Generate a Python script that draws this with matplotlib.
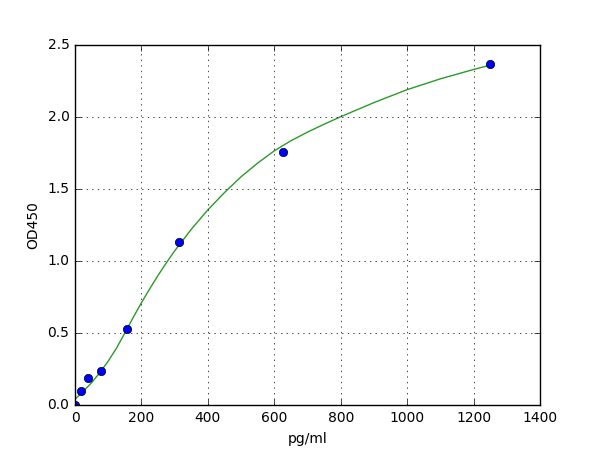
import matplotlib
matplotlib.use("Agg")
import matplotlib.pyplot as plt

plt.style.use("classic")
plt.rcParams["font.size"] = 10

# standard points
conc = [0, 19.5, 39, 78, 156, 312, 625, 1250]
od = [0.0, 0.099, 0.187, 0.238, 0.526, 1.131, 1.759, 2.366]

# fitted curve
curve_x = [0, 25, 50, 75, 100, 125, 150, 175, 200, 225, 250, 275, 300,
           350, 400, 450, 500, 550, 600, 650, 700, 750, 800, 900, 1000,
           1100, 1200, 1250]
curve_y = [0.04, 0.095, 0.155, 0.225, 0.305, 0.395, 0.50, 0.607, 0.71,
           0.807, 0.90, 0.987, 1.07, 1.22, 1.355, 1.475, 1.585, 1.68, 1.765,
           1.835, 1.895, 1.95, 2.002, 2.10, 2.19, 2.265, 2.33, 2.36]

fig = plt.figure(figsize=(6, 4.5), facecolor="white")
ax = fig.add_subplot(111)
ax.plot(curve_x, curve_y, "-", color="#2a9a2a")
ax.plot(conc, od, "bo")

ax.set_xlim(0, 1400)
ax.set_ylim(0, 2.5)
ax.set_xlabel("pg/ml")
ax.set_ylabel("OD450")
ax.grid(True)

fig.savefig("out.png", dpi=100, facecolor="white")
